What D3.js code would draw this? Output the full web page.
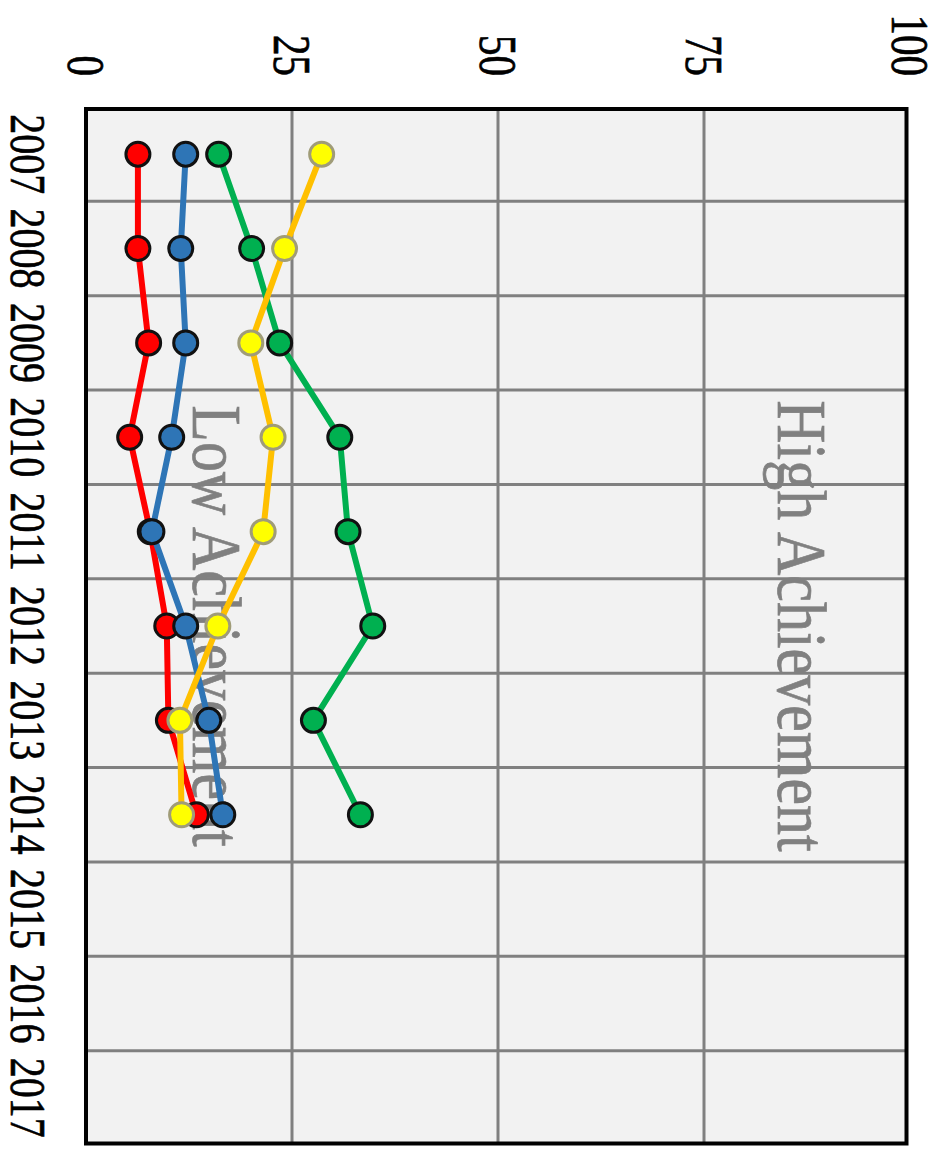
<!DOCTYPE html>
<html>
<head>
<meta charset="utf-8">
<script src="https://cdn.jsdelivr.net/npm/d3@7"></script>
<style>
  body { margin: 0; background: #fff; }
  svg text { font-family: "Liberation Serif", "Times New Roman", Times, serif; }
</style>
</head>
<body>
<div id="chart"></div>
<script>
// categories and ticks
var years = ['2007', '2008', '2009', '2010', '2011', '2012', '2013', '2014', '2015', '2016', '2017'];
var valueTicks = [0, 25, 50, 75, 100];
// series values, 2007 - 2014
var redSeries = [6.3, 6.3, 7.6, 5.3, 7.8, 9.8, 10.0, 13.4];
var blueSeries = [12.1, 11.5, 12.1, 10.4, 8.0, 12.1, 14.9, 16.6];
var greenSeries = [16.1, 20.1, 23.5, 30.8, 31.8, 34.8, 27.6, 33.3];
var yellowSeries = [28.6, 24.1, 20.0, 22.7, 21.5, 16.0, 11.4, 11.6];
var notes = [{ text: 'High Achievement', value: 84 }, { text: 'Low Achievement', value: 13 }];

var W = 939, H = 1153;

var svg = d3.select('#chart').append('svg')
    .attr('width', W)
    .attr('height', H);

// the chart lies on its side: lay it out upright, then turn it a quarter clockwise
var g = svg.append('g')
    .attr('transform', 'translate(' + W + ',0) rotate(90)');

var x = d3.scaleBand().domain(years).range([107, 1145]).padding(0);
var y = d3.scaleLinear().domain([0, 100]).range([853, 29]);
var bw = x.bandwidth();
var plotTop = 32, plotBottom = y(0);

// plot background
g.append('rect')
    .attr('x', x.range()[0])
    .attr('y', plotTop)
    .attr('width', x.range()[1] - x.range()[0])
    .attr('height', plotBottom - plotTop)
    .style('fill', '#f2f2f2');

// grid
g.selectAll('.hgrid')
    .data(valueTicks.filter(function (d) { return d > 0 && d < 100; }))
    .enter().append('line')
    .attr('class', 'hgrid')
    .attr('x1', x.range()[0]).attr('x2', x.range()[1])
    .attr('y1', function (d) { return y(d); })
    .attr('y2', function (d) { return y(d); })
    .style('stroke', '#808080')
    .style('stroke-width', 3);

g.selectAll('.vgrid')
    .data(years.slice(1))
    .enter().append('line')
    .attr('class', 'vgrid')
    .attr('x1', function (d) { return x(d); })
    .attr('x2', function (d) { return x(d); })
    .attr('y1', plotTop).attr('y2', plotBottom)
    .style('stroke', '#808080')
    .style('stroke-width', 3);

// annotations (sit under the lines)
notes.forEach(function (n) {
    g.append('g')
        .attr('transform', 'translate(' + (x.range()[0] + x.range()[1]) / 2 + ',' + y(n.value) + ')')
        .append('text')
        .attr('transform', 'scale(1,1.15)')
        .attr('text-anchor', 'middle')
        .style('font-size', '60px')
        .style('fill', '#808080')
        .style('stroke', '#808080')
        .style('stroke-width', 0.6)
        .text(n.text);
});

// series
var series = [
    { values: redSeries, line: '#ff0000', fill: '#ff0000', edge: '#111' },
    { values: blueSeries, line: '#2e75b6', fill: '#2e75b6', edge: '#111' },
    { values: greenSeries, line: '#00b050', fill: '#00b050', edge: '#111' },
    { values: yellowSeries, line: '#ffc000', fill: '#ffff00', edge: '#a09c78' }
];

var line = d3.line()
    .x(function (d, i) { return x(years[i]) + bw / 2; })
    .y(function (d) { return y(d); });

series.forEach(function (s) {
    g.append('path')
        .datum(s.values)
        .attr('d', line)
        .style('fill', 'none')
        .style('stroke', s.line)
        .style('stroke-width', 6)
        .style('stroke-linejoin', 'round');
    g.selectAll(null)
        .data(s.values)
        .enter().append('circle')
        .attr('cx', function (d, i) { return x(years[i]) + bw / 2; })
        .attr('cy', function (d) { return y(d); })
        .attr('r', 12)
        .style('fill', s.fill)
        .style('stroke', s.edge)
        .style('stroke-width', 3);
});

// frame
g.append('rect')
    .attr('x', 109)
    .attr('y', plotTop + 0.5)
    .attr('width', 1143.5 - 109)
    .attr('height', plotBottom - plotTop - 0.5)
    .style('fill', 'none')
    .style('stroke', '#000')
    .style('stroke-width', 4);

// value axis (ends up along the top)
var yAxis = g.append('g')
    .attr('transform', 'translate(76,0)')
    .call(d3.axisLeft(y).tickValues(valueTicks).tickSize(0).tickPadding(0));
yAxis.select('.domain').remove();
yAxis.attr('font-family', null);
yAxis.selectAll('text')
    .attr('x', 0)
    .attr('dy', null)
    .attr('y', 13.5)
    .attr('transform', 'scale(1,1.3)')
    .attr('text-anchor', 'end')
    .style('font-size', '41px')
    .style('fill', '#000')
    .style('stroke', '#000')
    .style('stroke-width', 0.5);

// year axis (ends up along the left)
var xAxis = g.append('g')
    .attr('transform', 'translate(0,928)')
    .call(d3.axisBottom(x).tickSize(0).tickPadding(0));
xAxis.select('.domain').remove();
xAxis.attr('font-family', null);
xAxis.selectAll('text')
    .attr('y', 0)
    .attr('dy', null)
    .attr('transform', 'scale(1,1.26)')
    .style('font-size', '40px')
    .style('fill', '#000')
    .style('stroke', '#000')
    .style('stroke-width', 0.5);
</script>
</body>
</html>
